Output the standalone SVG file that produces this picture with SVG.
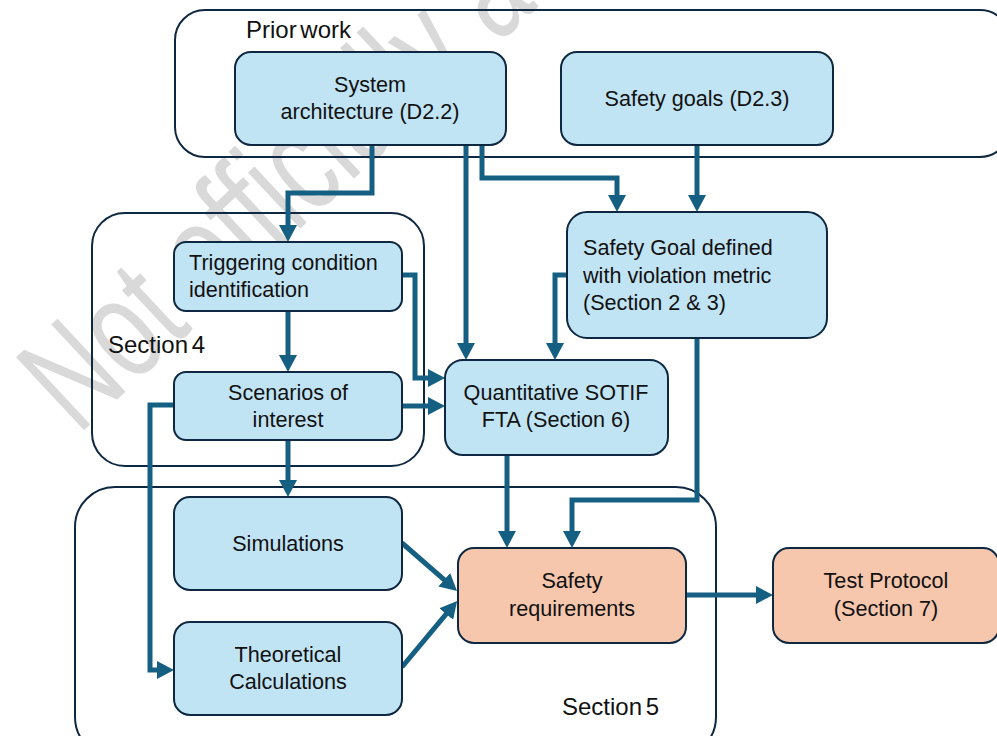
<svg xmlns="http://www.w3.org/2000/svg" width="997" height="736" viewBox="0 0 997 736">
  <style>
    .wm { font-family: "Liberation Sans", Arial, sans-serif; font-size: 145px; fill: #d9d9d9; }
    .group { fill: none; stroke: #0e2841; stroke-width: 2; }
    .glabel { font-family: "Liberation Sans", Arial, sans-serif; font-size: 24px; fill: #111; word-spacing: -3px; }
    .node rect { fill: #c1e4f5; stroke: #0e2841; stroke-width: 2; }
    .node.out rect { fill: #f6c6ad; }
    .node text { font-family: "Liberation Sans", Arial, sans-serif; font-size: 21.6px; fill: #111; text-anchor: middle; }
    .node text.left { text-anchor: start; }
    .edge { fill: none; stroke: #156082; stroke-width: 5; marker-end: url(#head); }
  </style>
  <defs>
    <marker id="head" viewBox="0 0 17 18" markerUnits="userSpaceOnUse" markerWidth="17" markerHeight="18" refX="7" refY="9" orient="auto">
      <path d="M0,0 L17,9 L0,18 Z" fill="#156082"/>
    </marker>
  </defs>

  <rect width="997" height="736" fill="#ffffff"/>

  <!-- background watermark, runs off the top edge -->
  <text class="wm" transform="translate(78,436) rotate(-43)" textLength="630" lengthAdjust="spacingAndGlyphs">Not officially a</text>

  <!-- grouping frames -->
  <g id="frames">
    <rect class="group" x="175" y="10" width="835" height="147" rx="30"/>
    <text class="glabel" x="246" y="38">Prior work</text>
    <rect class="group" x="92" y="213" width="332" height="253" rx="33"/>
    <text class="glabel" x="108" y="353">Section 4</text>
    <rect class="group" x="75" y="487" width="641" height="270" rx="40"/>
    <text class="glabel" x="562" y="715">Section 5</text>
  </g>

  <!-- connectors -->
  <g id="connectors">
    <path class="edge" d="M372,145 V193 H288 V232"/>
    <path class="edge" d="M466,145 V350"/>
    <path class="edge" d="M482,145 V178 H617 V202"/>
    <path class="edge" d="M697,145 V202"/>
    <path class="edge" d="M288,311 V362"/>
    <path class="edge" d="M402,275 H415 V378 H435"/>
    <path class="edge" d="M402,406 H435"/>
    <path class="edge" d="M567,275 H555 V350"/>
    <path class="edge" d="M288,440 V487"/>
    <path class="edge" d="M174,405 H150 V670 H164"/>
    <path class="edge" d="M507,455 V538"/>
    <path class="edge" d="M697,338 V500 H572 V538"/>
    <path class="edge" d="M402,543 L449.5,584.4"/>
    <path class="edge" d="M402,667 L450.7,608.7"/>
    <path class="edge" d="M686,595 H763"/>
  </g>

  <!-- nodes -->
  <g id="system-architecture" class="node">
    <rect x="235" y="52" width="271" height="93" rx="16"/>
    <text x="370" y="92">System</text>
    <text x="370" y="119">architecture (D2.2)</text>
  </g>
  <g id="safety-goals" class="node">
    <rect x="561" y="52" width="272" height="93" rx="16"/>
    <text x="697" y="106">Safety goals (D2.3)</text>
  </g>
  <g id="safety-goal-defined" class="node">
    <rect x="567" y="212" width="260" height="126" rx="20"/>
    <text class="left" x="583" y="255">Safety Goal defined</text>
    <text class="left" x="583" y="283">with violation metric</text>
    <text class="left" x="583" y="310">(Section 2 &amp; 3)</text>
  </g>
  <g id="triggering-condition" class="node">
    <rect x="174" y="242" width="228" height="69" rx="12"/>
    <text class="left" x="189" y="270">Triggering condition</text>
    <text class="left" x="189" y="297">identification</text>
  </g>
  <g id="scenarios" class="node">
    <rect x="174" y="372" width="228" height="68" rx="12"/>
    <text x="288" y="400">Scenarios of</text>
    <text x="288" y="427">interest</text>
  </g>
  <g id="sotif-fta" class="node">
    <rect x="445" y="360" width="223" height="95" rx="18"/>
    <text x="556" y="400">Quantitative SOTIF</text>
    <text x="556" y="427">FTA (Section 6)</text>
  </g>
  <g id="simulations" class="node">
    <rect x="174" y="497" width="228" height="93" rx="16"/>
    <text x="288" y="551">Simulations</text>
  </g>
  <g id="theoretical-calculations" class="node">
    <rect x="174" y="622" width="228" height="93" rx="16"/>
    <text x="288" y="662">Theoretical</text>
    <text x="288" y="689">Calculations</text>
  </g>
  <g id="safety-requirements" class="node out">
    <rect x="458" y="548" width="228" height="95" rx="16"/>
    <text x="572" y="588">Safety</text>
    <text x="572" y="616">requirements</text>
  </g>
  <g id="test-protocol" class="node out">
    <rect x="773" y="548" width="226" height="95" rx="16"/>
    <text x="886" y="588">Test Protocol</text>
    <text x="886" y="616">(Section 7)</text>
  </g>
</svg>
